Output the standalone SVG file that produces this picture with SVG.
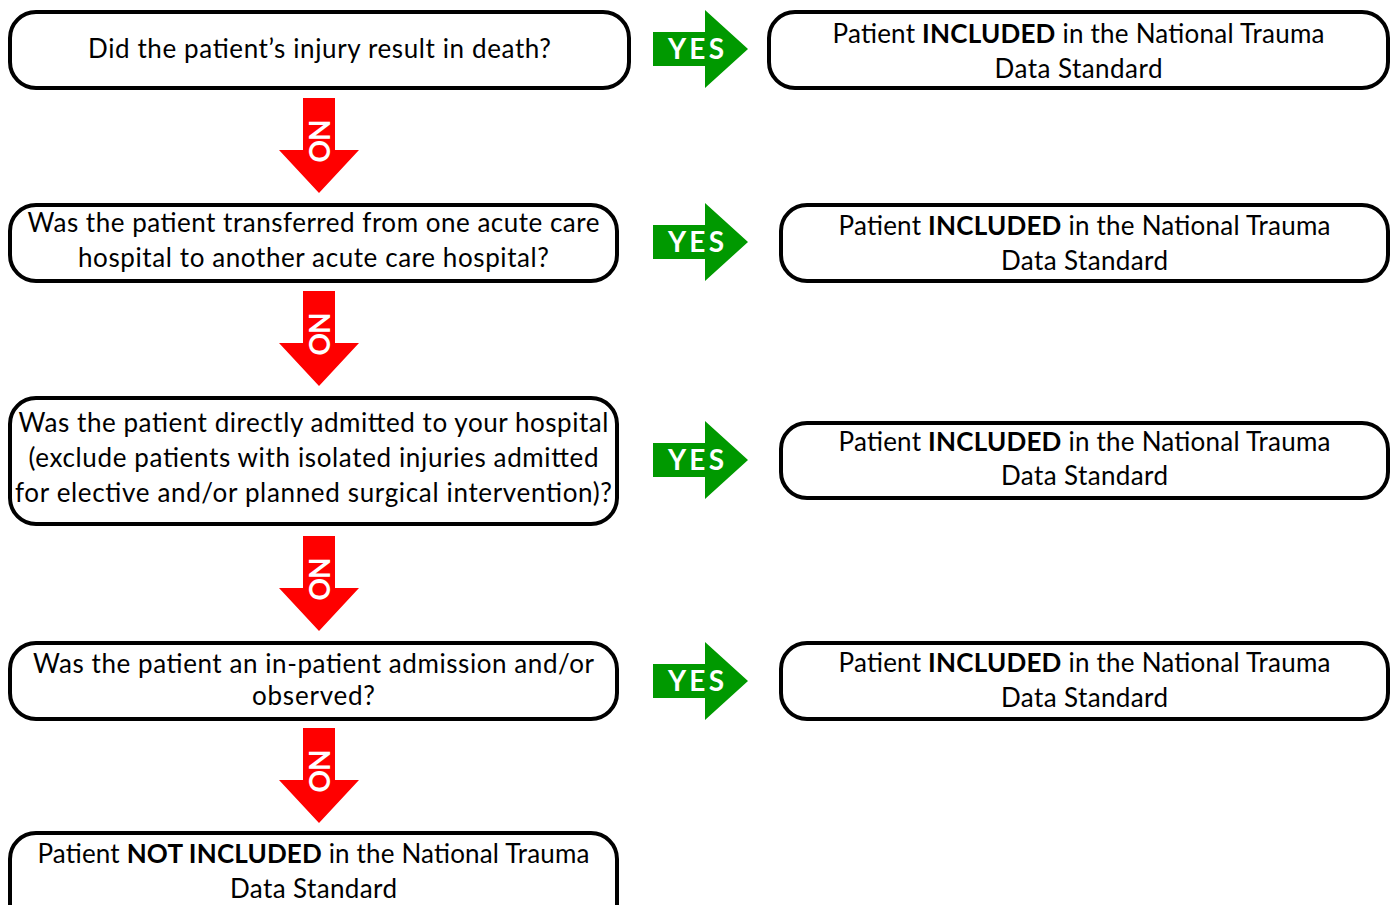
<svg xmlns="http://www.w3.org/2000/svg" width="1397" height="905" viewBox="0 0 1397 905">
<style>
.box{fill:#fff;stroke:#000;stroke-width:4}
.t{font-family:Lato,"Open Sans",sans-serif;font-size:26px;fill:#000;text-anchor:middle}
.b{font-weight:bold}
.yes{fill:#009900}
.no{fill:#ff0000}
.yt{font-family:Lato,"Open Sans",sans-serif;font-size:28px;font-weight:bold;fill:#fff;text-anchor:middle}
</style>
<defs>
<path id="yesArrow" d="M0,-17 H52 V-39 L95,0 L52,39 V17 H0 Z"/>
<path id="noArrow" d="M-16,0 H16 V52 H40 L0,95 L-40,52 H-16 Z"/>
</defs>
<rect width="1397" height="905" fill="#fff"/>
<g id="connectors">
<g transform="translate(653,49)"><use href="#yesArrow" class="yes"/><text class="yt" x="43" y="10" textLength="56">YES</text></g>
<g transform="translate(653,242)"><use href="#yesArrow" class="yes"/><text class="yt" x="43" y="10" textLength="56">YES</text></g>
<g transform="translate(653,460)"><use href="#yesArrow" class="yes"/><text class="yt" x="43" y="10" textLength="56">YES</text></g>
<g transform="translate(653,681)"><use href="#yesArrow" class="yes"/><text class="yt" x="43" y="10" textLength="56">YES</text></g>
<g transform="translate(319,98)"><use href="#noArrow" class="no"/><text class="yt" transform="translate(-10,43) rotate(90)" textLength="43">NO</text></g>
<g transform="translate(319,291)"><use href="#noArrow" class="no"/><text class="yt" transform="translate(-10,43) rotate(90)" textLength="43">NO</text></g>
<g transform="translate(319,536)"><use href="#noArrow" class="no"/><text class="yt" transform="translate(-10,43) rotate(90)" textLength="43">NO</text></g>
<g transform="translate(319,728)"><use href="#noArrow" class="no"/><text class="yt" transform="translate(-10,43) rotate(90)" textLength="43">NO</text></g>
</g>
<g id="q1"><rect class="box" x="10" y="12" width="619" height="76" rx="26"/>
<text class="t" x="319.5" y="58" textLength="463">Did the patient’s injury result in death?</text></g>
<g id="r1"><rect class="box" x="769" y="12" width="619" height="76" rx="26"/>
<text class="t" x="1078.5" y="43" textLength="492">Patient <tspan class="b">INCLUDED</tspan> in the National Trauma</text>
<text class="t" x="1078.5" y="78" textLength="168">Data Standard</text></g>
<g id="q2"><rect class="box" x="10" y="205" width="607" height="76" rx="26"/>
<text class="t" x="313.5" y="232" textLength="572">Was the patient transferred from one acute care</text>
<text class="t" x="313.5" y="267" textLength="471">hospital to another acute care hospital?</text></g>
<g id="r2"><rect class="box" x="781" y="205" width="607" height="76" rx="26"/>
<text class="t" x="1084.5" y="235" textLength="492">Patient <tspan class="b">INCLUDED</tspan> in the National Trauma</text>
<text class="t" x="1084.5" y="270" textLength="167">Data Standard</text></g>
<g id="q3"><rect class="box" x="10" y="398" width="607" height="126" rx="26"/>
<text class="t" x="313.5" y="432" textLength="590">Was the patient directly admitted to your hospital</text>
<text class="t" x="313.5" y="467" textLength="570">(exclude patients with isolated injuries admitted</text>
<text class="t" x="313.5" y="502" textLength="597">for elective and/or planned surgical intervention)?</text></g>
<g id="r3"><rect class="box" x="781" y="423" width="607" height="75" rx="26"/>
<text class="t" x="1084.5" y="451" textLength="492">Patient <tspan class="b">INCLUDED</tspan> in the National Trauma</text>
<text class="t" x="1084.5" y="485" textLength="167">Data Standard</text></g>
<g id="q4"><rect class="box" x="10" y="643" width="607" height="76" rx="26"/>
<text class="t" x="313.5" y="673" textLength="561">Was the patient an in-patient admission and/or</text>
<text class="t" x="313.5" y="705" textLength="123">observed?</text></g>
<g id="r4"><rect class="box" x="781" y="643" width="607" height="76" rx="26"/>
<text class="t" x="1084.5" y="672" textLength="492">Patient <tspan class="b">INCLUDED</tspan> in the National Trauma</text>
<text class="t" x="1084.5" y="707" textLength="167">Data Standard</text></g>
<g id="end"><rect class="box" x="10" y="833" width="607" height="100" rx="26"/>
<text class="t" x="313.5" y="863" textLength="552">Patient <tspan class="b">NOT INCLUDED</tspan> in the National Trauma</text>
<text class="t" x="313.5" y="898" textLength="167">Data Standard</text></g>
</svg>
